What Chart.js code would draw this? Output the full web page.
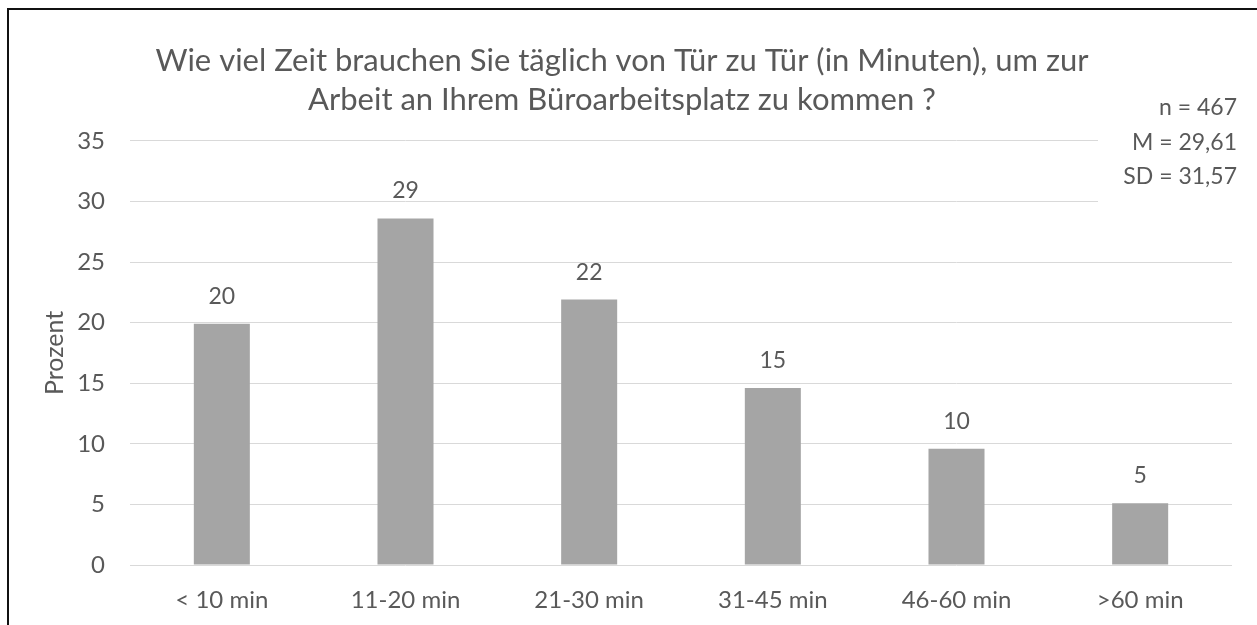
<!DOCTYPE html>
<html>
<head>
<meta charset="utf-8">
<script src="https://cdn.jsdelivr.net/npm/chart.js@4"></script>
<style>
    body { margin: 0; overflow: hidden; background: #fff; }
    #wrap { position: relative; width: 1257px; height: 625px; }
    #frame {
        position: absolute; left: 7px; top: 8px; right: 0; bottom: 0;
        border-top: 2px solid #111; border-left: 2px solid #111;
        pointer-events: none;
    }
</style>
</head>
<body>
<div id="wrap">
    <canvas id="commuteChart"></canvas>
    <div id="frame"></div>
</div>
<script>
const categories = ['< 10 min', '11-20 min', '21-30 min', '31-45 min', '46-60 min', '>60 min'];
const percentValues = [19.9, 28.6, 21.9, 14.6, 9.6, 5.1];
const titleLines = [
    'Wie viel Zeit brauchen Sie täglich von Tür zu Tür (in Minuten), um zur',
    'Arbeit an Ihrem Büroarbeitsplatz zu kommen ?'
];
const statsLines = ['n = 467', 'M = 29,61', 'SD = 31,57'];

const textColor = '#595959';
const fontFamily = 'Lato, "Open Sans", sans-serif';

// value labels above the bars
const barLabels = {
    id: 'barLabels',
    afterDatasetsDraw(chart) {
        const ctx = chart.ctx;
        const meta = chart.getDatasetMeta(0);
        ctx.save();
        ctx.font = '23px ' + fontFamily;
        ctx.fillStyle = textColor;
        ctx.textAlign = 'center';
        ctx.textBaseline = 'alphabetic';
        meta.data.forEach((bar, i) => {
            ctx.fillText(String(Math.round(percentValues[i])), bar.x, bar.y - 20);
        });
        ctx.restore();
    }
};

// n / M / SD box in the top right corner
const statsBox = {
    id: 'statsBox',
    afterDraw(chart) {
        const ctx = chart.ctx;
        ctx.save();
        ctx.fillStyle = '#fff';
        ctx.fillRect(1098, 88, 150, 124);
        ctx.font = '23px ' + fontFamily;
        ctx.fillStyle = textColor;
        ctx.textAlign = 'right';
        ctx.textBaseline = 'alphabetic';
        statsLines.forEach((line, i) => {
            ctx.fillText(line, 1237, 115 + i * 34.5);
        });
        ctx.restore();
    }
};

new Chart(document.getElementById('commuteChart'), {
    type: 'bar',
    data: {
        labels: categories,
        datasets: [{
            data: percentValues,
            backgroundColor: '#A5A5A5',
            categoryPercentage: 1,
            barPercentage: 0.305
        }]
    },
    options: {
        responsive: true,
        maintainAspectRatio: false,
        animation: false,
        layout: {
            padding: {left: 12, right: 25, top: 0, bottom: 0}
        },
        scales: {
            x: {
                grid: {display: false},
                border: {display: false},
                ticks: {
                    color: textColor,
                    font: {family: fontFamily, size: 24},
                    padding: 13,
                    maxRotation: 0
                },
                afterFit(scale) { scale.height = 60; }
            },
            y: {
                min: 0,
                max: 35,
                ticks: {
                    stepSize: 5,
                    color: textColor,
                    font: {family: fontFamily, size: 24},
                    padding: 25
                },
                grid: {color: '#D9D9D9', lineWidth: 1, drawTicks: false},
                border: {display: false},
                title: {
                    display: true,
                    text: 'Prozent',
                    color: textColor,
                    font: {family: fontFamily, size: 25},
                    padding: {top: 28, bottom: 0}
                },
                afterFit(scale) { scale.width = 118; }
            }
        },
        plugins: {
            legend: {display: false},
            tooltip: {enabled: false},
            title: {
                display: true,
                text: titleLines,
                color: textColor,
                font: {family: fontFamily, size: 31, weight: 'normal', lineHeight: 1.24},
                padding: {top: 42, bottom: 22}
            }
        }
    },
    plugins: [barLabels, statsBox]
});
</script>
</body>
</html>
